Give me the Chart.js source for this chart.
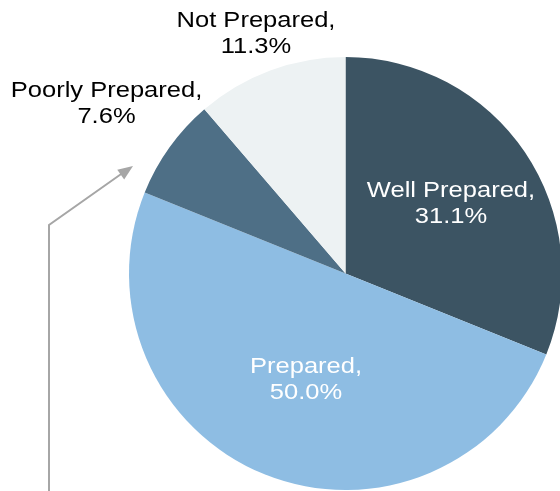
<!DOCTYPE html>
<html><head><meta charset="utf-8">
<script src="https://cdn.jsdelivr.net/npm/chart.js@4"></script>
<style>html,body{margin:0;padding:0;background:#fff;overflow:hidden;width:560px;height:491px}canvas{position:absolute;left:0;top:0}</style>
</head><body>
<canvas id="c" width="600" height="560"></canvas>
<script>
const categories = ["Well Prepared", "Prepared", "Poorly Prepared", "Not Prepared"];
const values = [31.1, 50.0, 7.6, 11.3];
const colors = ["#3c5463", "#8ebde3", "#4e6f86", "#edf2f3"];
const textColors = ["#ffffff", "#ffffff", "#000000", "#000000"];

const FONT = '22px "Liberation Sans", Arial, sans-serif';
const STRETCH = 1.16;

function wideText(ctx, text, x, y) {
  ctx.save();
  ctx.translate(x, y);
  ctx.scale(STRETCH, 1);
  ctx.fillText(text, 0, 0);
  ctx.restore();
}

const labelPlugin = {
  id: 'labels',
  afterDraw(chart) {
    const ctx = chart.ctx;
    const meta = chart.getDatasetMeta(0);
    ctx.save();
    ctx.font = FONT;
    ctx.textAlign = 'center';
    ctx.textBaseline = 'middle';
    meta.data.forEach((arc, i) => {
      const {x, y, startAngle, endAngle, outerRadius} = arc.getProps(['x','y','startAngle','endAngle','outerRadius'], true);
      const mid = (startAngle + endAngle) / 2;
      let lx, ly;
      if (i === 0) { const r = outerRadius * 0.56; lx = x + Math.cos(mid) * r + 5; ly = y + Math.sin(mid) * r - 2; }
      else if (i === 1) { const r = outerRadius * 0.5; lx = x + Math.cos(mid) * r + 1; ly = y + Math.sin(mid) * r + 6; }
      else if (i === 2) { lx = 106.5; ly = 103.5; }
      else { lx = 256; ly = 34; }
      ctx.fillStyle = textColors[i];
      wideText(ctx, categories[i] + ',', lx, ly - 13);
      wideText(ctx, values[i].toFixed(1) + '%', lx, ly + 13);
    });
    // arrow
    ctx.strokeStyle = '#a6a6a6';
    ctx.fillStyle = '#a6a6a6';
    ctx.lineWidth = 2;
    ctx.beginPath();
    ctx.moveTo(49, 495);
    ctx.lineTo(49, 225);
    ctx.lineTo(124, 172);
    ctx.stroke();
    const tx = 133, ty = 166;
    const ang = Math.atan2(166 - 225, 133 - 49);
    ctx.beginPath();
    ctx.moveTo(tx, ty);
    ctx.lineTo(tx - 15 * Math.cos(ang) + 6 * Math.sin(ang), ty - 15 * Math.sin(ang) - 6 * Math.cos(ang));
    ctx.lineTo(tx - 15 * Math.cos(ang) - 6 * Math.sin(ang), ty - 15 * Math.sin(ang) + 6 * Math.cos(ang));
    ctx.closePath();
    ctx.fill();
    ctx.restore();
  }
};

new Chart(document.getElementById('c'), {
  type: 'pie',
  data: {
    labels: categories,
    datasets: [{ data: values, backgroundColor: colors, borderWidth: 0 }]
  },
  options: {
    responsive: false,
    animation: false,
    layout: { padding: { left: 129, top: 57, right: 38, bottom: 70 } },
    plugins: { legend: { display: false }, tooltip: { enabled: false } }
  },
  plugins: [labelPlugin]
});
</script>
</body></html>
